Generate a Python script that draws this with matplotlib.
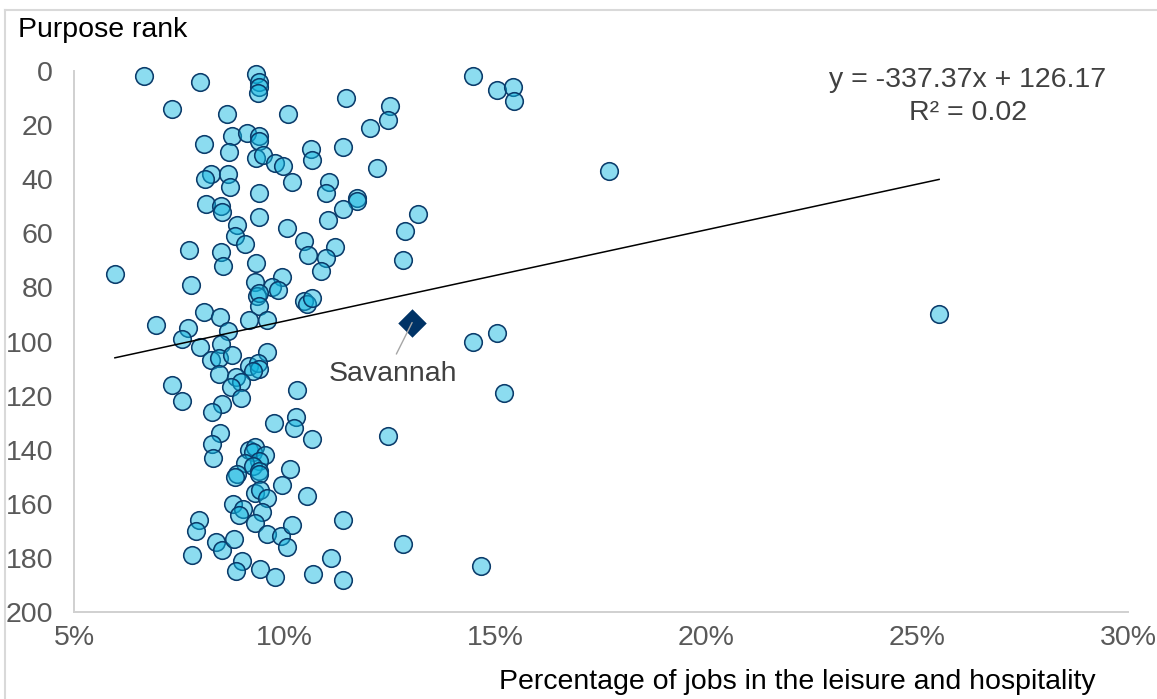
import numpy as np
import matplotlib
matplotlib.use("Agg")
import matplotlib.pyplot as plt
from matplotlib.ticker import PercentFormatter, FixedLocator
from matplotlib.lines import Line2D

plt.rcParams['font.family'] = ['Liberation Sans', 'DejaVu Sans']

# Share of jobs in leisure & hospitality (%) and purpose rank, one entry per city
leisure_pct = [
    6.66, 7.99, 9.32, 9.39, 9.39, 9.36, 7.32, 8.63, 10.08, 11.45,
    12.50, 12.45, 12.02, 8.08, 8.75, 9.10, 9.39, 9.39, 8.68, 9.32,
    9.48, 9.77, 9.96, 10.62, 10.65, 11.38, 12.19, 8.25, 8.11, 8.65,
    8.70, 9.39, 10.17, 11.05, 10.98, 11.71, 11.71, 11.38, 11.02, 8.13,
    8.49, 8.51, 9.39, 8.87, 8.82, 9.06, 10.05, 10.46, 10.55, 11.19,
    10.98, 10.86, 13.16, 12.85, 12.80, 7.73, 8.49, 8.53, 9.32, 5.97,
    7.78, 9.29, 9.93, 9.70, 9.84, 9.34, 9.39, 9.39, 10.46, 10.53,
    10.65, 8.08, 8.46, 9.15, 9.58, 6.95, 7.70, 7.56, 8.65, 7.99,
    8.49, 9.58, 14.46, 15.03, 15.41, 15.44, 17.69, 14.46, 15.03, 8.25,
    8.44, 8.75, 9.15, 9.36, 9.39, 9.25, 8.44, 8.84, 8.96, 8.72,
    8.96, 7.32, 7.56, 8.51, 8.27, 10.29, 9.74, 10.27, 10.22, 10.65,
    12.45, 8.46, 8.27, 8.30, 9.15, 9.29, 9.25, 9.53, 9.39, 9.06,
    9.25, 9.39, 8.87, 8.82, 9.39, 10.12, 9.93, 9.29, 9.41, 9.58,
    10.53, 8.77, 9.01, 8.91, 9.46, 11.38, 7.96, 7.89, 9.29, 9.58,
    9.91, 10.17, 8.37, 8.51, 8.80, 10.05, 12.80, 7.80, 8.98, 8.84,
    9.41, 9.77, 10.67, 11.10, 11.38, 15.20, 14.65, 25.52,
]
purpose_rank = [
    2, 4, 1, 4, 6, 8, 14, 16, 16, 10,
    13, 18, 21, 27, 24, 23, 24, 26, 30, 32,
    31, 34, 35, 29, 33, 28, 36, 38, 40, 38,
    43, 45, 41, 41, 45, 47, 48, 51, 55, 49,
    50, 52, 54, 57, 61, 64, 58, 63, 68, 65,
    69, 74, 53, 59, 70, 66, 67, 72, 71, 75,
    79, 78, 76, 80, 81, 83, 82, 87, 85, 86,
    84, 89, 91, 92, 92, 94, 95, 99, 96, 102,
    101, 104, 2, 7, 6, 11, 37, 100, 97, 107,
    106, 105, 109, 108, 110, 111, 112, 113, 115, 117,
    121, 116, 122, 123, 126, 118, 130, 128, 132, 136,
    135, 134, 138, 143, 140, 139, 141, 142, 144, 145,
    146, 148, 149, 150, 149, 147, 153, 156, 155, 158,
    157, 160, 162, 164, 163, 166, 166, 170, 167, 171,
    172, 168, 174, 177, 173, 176, 175, 179, 181, 185,
    184, 187, 186, 180, 188, 119, 183, 90,
]

highlight_name = "Savannah"
highlight_pct = 13.02
highlight_rank = 93

# Linear trendline (x as a fraction)
trend_slope = -337.37
trend_intercept = 126.17
trend_r2 = 0.02

x_ticks = [0.05, 0.10, 0.15, 0.20, 0.25, 0.30]
y_ticks = [0, 20, 40, 60, 80, 100, 120, 140, 160, 180, 200]

W, H = 1157, 699
fig = plt.figure(figsize=(W / 100, H / 100), dpi=100)
ax = fig.add_axes([74 / W, 1 - 612 / H, (1128 - 74) / W, (612 - 71) / H])

x = np.array(leisure_pct) / 100.0
y = np.array(purpose_rank)

ax.scatter(x, y, s=160, marker='o',
           facecolors=[(15 / 255, 182 / 255, 224 / 255, 0.48)],
           edgecolors='#0B3C6B', linewidths=1.15, zorder=2, clip_on=False)

xt = np.array([x.min(), x.max()])
ax.plot(xt, trend_slope * xt + trend_intercept, color='black', lw=1.1, zorder=3)

ax.scatter([highlight_pct / 100.0], [highlight_rank], s=210, marker='D',
           color='#003366', linewidths=0, zorder=4)
ax.annotate(highlight_name, xy=(highlight_pct / 100.0, highlight_rank),
            xytext=(-13.7, -36.7), textcoords='offset points',
            ha='center', va='center', fontsize=20.5, color='#404040',
            arrowprops=dict(arrowstyle='-', color='#A6A6A6', lw=1.0,
                            shrinkA=3, shrinkB=0, relpos=(0.5, 1.0)),
            zorder=5)

ax.set_xlim(0.05, 0.30)
ax.set_ylim(200, 0)
ax.xaxis.set_major_locator(FixedLocator(x_ticks))
ax.yaxis.set_major_locator(FixedLocator(y_ticks))
ax.xaxis.set_major_formatter(PercentFormatter(1.0, decimals=0))
ax.tick_params(axis='both', length=0, labelsize=20.5, labelcolor='#595959')
ax.tick_params(axis='x', pad=9.5)
ax.tick_params(axis='y', pad=15)

for side in ('top', 'right'):
    ax.spines[side].set_visible(False)
for side in ('left', 'bottom'):
    ax.spines[side].set_color('#D0D0D0')
    ax.spines[side].set_linewidth(1.4)

fig.text(18 / W, 1 - 30 / H, "Purpose rank", ha='left', va='center',
         fontsize=20.5, color='black')
fig.text(797 / W, 1 - 682 / H, "Percentage of jobs in the leisure and hospitality",
         ha='center', va='center', fontsize=20.5, color='black')

fig.text(968 / W, 1 - 80 / H, f"y = {trend_slope:.2f}x + {trend_intercept:.2f}",
         ha='center', va='center', fontsize=20.5, color='#404040')
fig.text(968 / W, 1 - 113 / H, f"R² = {trend_r2:.2f}",
         ha='center', va='center', fontsize=20.5, color='#404040')

# Chart-area frame
fig.add_artist(Line2D([5 / W, 1.0], [1 - 10 / H, 1 - 10 / H],
                      transform=fig.transFigure, color='#D9D9D9', lw=1.5))
fig.add_artist(Line2D([5 / W, 5 / W], [0.0, 1 - 10 / H],
                      transform=fig.transFigure, color='#D9D9D9', lw=1.5))

fig.savefig("out.png", dpi=100, facecolor='white')
